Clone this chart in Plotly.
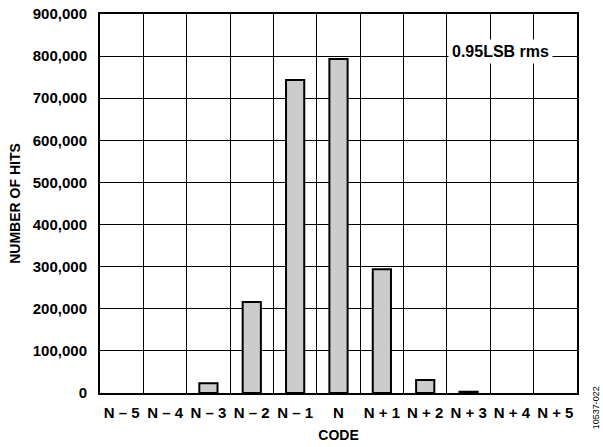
import plotly.graph_objects as go

codes = ["N – 5", "N – 4", "N – 3", "N – 2", "N – 1", "N",
         "N + 1", "N + 2", "N + 3", "N + 4", "N + 5"]
hits = [0, 0, 23000, 216000, 743000, 793000, 294000, 31000, 3000, 0, 0]

y_ticks = [0, 100000, 200000, 300000, 400000, 500000,
           600000, 700000, 800000, 900000]

FONT = "Liberation Sans, Arial, Helvetica, sans-serif"
FS = 15

edge_widths = [0 if v == 0 else 2 for v in hits]

fig = go.Figure()
fig.add_trace(go.Bar(
    x=codes, y=hits, width=0.42,
    marker=dict(color="#cccccc", line=dict(color="black", width=edge_widths)),
))

fig.update_layout(
    width=603, height=447,
    margin=dict(l=100, r=26, t=14, b=54),
    paper_bgcolor="white", plot_bgcolor="white",
    showlegend=False,
    font=dict(family=FONT, size=FS, color="black", weight="bold"),
    xaxis=dict(
        type="category", tickson="boundaries", automargin=False,
        tickangle=0, ticklabeloverflow="allow",
        showgrid=True, gridcolor="black", gridwidth=1.3,
        showline=True, linecolor="black", linewidth=2, mirror=True,
        ticks="", ticklabelstandoff=5,
        title=dict(text="CODE", standoff=10,
                   font=dict(family=FONT, size=FS - 1, weight="bold")),
        tickfont=dict(family=FONT, size=FS, weight="bold"),
    ),
    yaxis=dict(
        range=[0, 900000], tickvals=y_ticks, tickformat=",",
        automargin=False, ticklabeloverflow="allow",
        showgrid=True, gridcolor="black", gridwidth=1.3, zeroline=False,
        showline=True, linecolor="black", linewidth=2, mirror=True,
        ticks="", ticklabelstandoff=8,
        title=dict(text="NUMBER OF HITS", standoff=9,
                   font=dict(family=FONT, size=FS - 1, weight="bold")),
        tickfont=dict(family=FONT, size=FS, weight="bold"),
    ),
    annotations=[
        dict(text="0.95LSB rms", xref="paper", yref="paper",
             x=0.839, y=0.90, xanchor="center", yanchor="middle",
             showarrow=False, bgcolor="white", borderpad=3,
             font=dict(family=FONT, size=16, weight="bold")),
        dict(text="10537-022", xref="paper", yref="paper",
             x=1.0, y=-0.04, xshift=19, textangle=-90,
             showarrow=False, xanchor="center", yanchor="middle",
             font=dict(family=FONT, size=9, weight="normal")),
    ],
)

# remove the default page margin so the figure sits at the window's corner
fig.write_html(
    "out.html",
    config={"displayModeBar": False},
    post_script="document.body.style.margin='0px';",
)
